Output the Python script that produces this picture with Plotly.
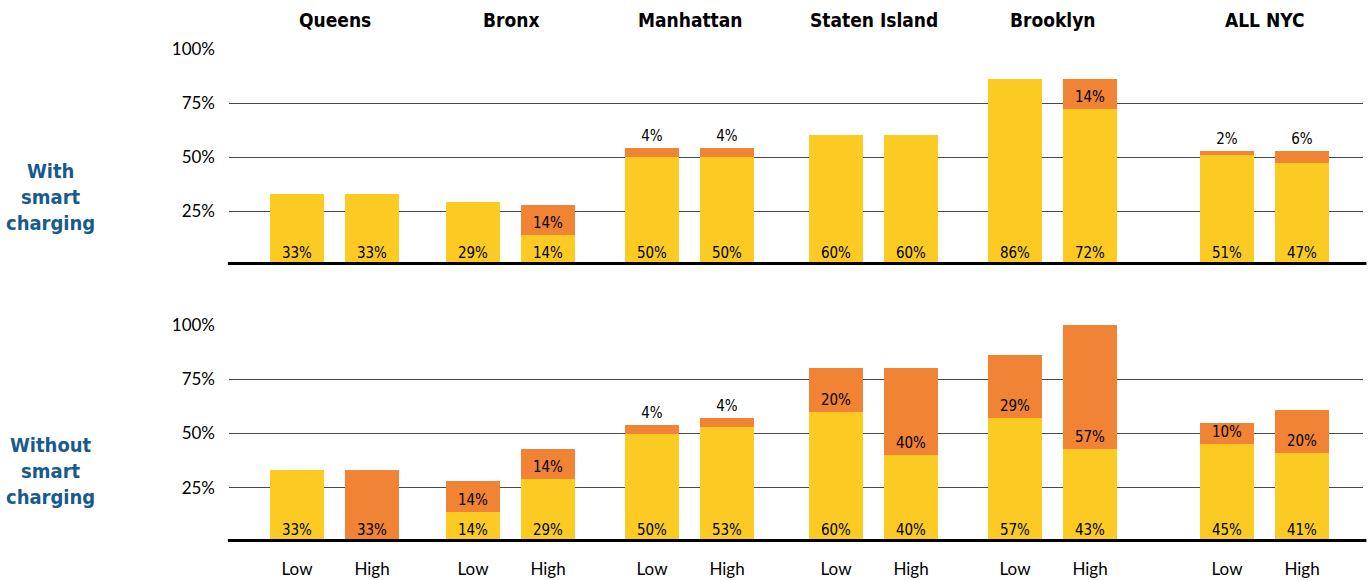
import plotly.graph_objects as go
from plotly.subplots import make_subplots

# data (percent)
boroughs = ["Queens", "Bronx", "Manhattan", "Staten Island", "Brooklyn", "ALL NYC"]
levels = ["Low", "High"]
row_titles = ["With<br>smart<br>charging", "Without<br>smart<br>charging"]

smart_base = [[33, 33], [29, 14], [50, 50], [60, 60], [86, 72], [51, 47]]
smart_extra = [[0, 0], [0, 14], [4, 4], [0, 0], [0, 14], [2, 6]]
nosmart_base = [[33, 0], [14, 29], [50, 53], [60, 40], [57, 43], [45, 41]]
nosmart_extra = [[0, 33], [14, 14], [4, 4], [20, 40], [29, 57], [10, 20]]

ytick_vals = [25, 50, 75, 100]
ytick_text = [f"{v}%" for v in ytick_vals]

YELLOW = "#FBCB23"
ORANGE = "#F08334"
BLUE = "#175B8E"
NARROW = "Liberation Sans Narrow, DejaVu Sans Condensed, sans-serif"
TICKFONT = "Lato, Open Sans, sans-serif"

# layout geometry (pixels in a 1370x580 page)
W, H = 1370, 580
L, R, T, B = 229, 7, 49, 38
col_edges_px = [229, 422, 600, 782, 963, 1159, 1363]
low_center_px = [297, 473, 652, 836, 1015, 1227]
unit_px = 75.0
plot_w = W - L - R
plot_h = H - T - B


def label(v):
    return f"{v}%" if v > 0 else ""


fig = make_subplots(rows=2, cols=6, horizontal_spacing=0, vertical_spacing=0.1)

panels = [(smart_base, smart_extra), (nosmart_base, nosmart_extra)]
for r, (base, extra) in enumerate(panels):
    for c in range(len(boroughs)):
        fig.add_trace(go.Bar(
            x=levels, y=base[c],
            marker=dict(color=YELLOW, line=dict(width=0)),
            text=[label(v) for v in base[c]],
            textposition="inside", insidetextanchor="start",
            textfont=dict(family=NARROW, size=15, color="black"),
            constraintext="none", hoverinfo="skip", showlegend=False
        ), row=r + 1, col=c + 1)
        fig.add_trace(go.Bar(
            x=levels, y=extra[c],
            marker=dict(color=ORANGE, line=dict(width=0)),
            text=[label(v) for v in extra[c]],
            textposition=["outside" if 0 < v < 8 else "inside" for v in extra[c]],
            insidetextanchor="start",
            textfont=dict(family=NARROW, size=15, color="black"),
            outsidetextfont=dict(family=NARROW, size=15, color="black"),
            constraintext="none", cliponaxis=False,
            hoverinfo="skip", showlegend=False
        ), row=r + 1, col=c + 1)

# vertical domains: zero line of top panel at y=265px, bottom panel 100% at y=325px
top_dom = [(H - B - 265) / plot_h, 1.0]
bot_dom = [0.0, (H - B - 325) / plot_h]

for r in range(2):
    for c in range(6):
        x0 = (col_edges_px[c] - L) / plot_w
        x1 = (col_edges_px[c + 1] - L) / plot_w
        rng = [(col_edges_px[c] - low_center_px[c]) / unit_px,
               (col_edges_px[c + 1] - low_center_px[c]) / unit_px]
        fig.update_xaxes(
            domain=[x0, x1], range=rng, type="category",
            categoryorder="array", categoryarray=levels,
            showgrid=False, zeroline=False, showline=False, ticks="",
            showticklabels=(r == 1), ticklabelstandoff=15, automargin=False,
            tickfont=dict(family=TICKFONT, size=17, color="black"),
            row=r + 1, col=c + 1
        )
        fig.update_yaxes(
            domain=top_dom if r == 0 else bot_dom, range=[0, 100],
            tickmode="array", tickvals=ytick_vals, ticktext=ytick_text,
            showgrid=True, gridcolor="#4a4a4a", gridwidth=1,
            zeroline=False, showline=False, ticks="", automargin=False,
            showticklabels=(c == 0), ticklabelstandoff=13,
            tickfont=dict(family=TICKFONT, size=17, color="black"),
            row=r + 1, col=c + 1
        )

# borough titles
for c, name in enumerate(boroughs):
    fig.add_annotation(
        x=0.5, xref=f"x{c + 1}", y=1, yref="paper", yshift=29,
        text=f"<b>{name}</b>", showarrow=False,
        xanchor="center", yanchor="middle",
        font=dict(family=NARROW, size=19, color="black")
    )

# row labels
for r, txt in enumerate(row_titles):
    yc = (H - B - (197 if r == 0 else 471)) / plot_h
    fig.add_annotation(
        x=(50 - L) / plot_w, xref="paper", y=yc, yref="paper",
        text=f"<b>{txt}</b>", showarrow=False, align="center",
        xanchor="center", yanchor="middle",
        font=dict(family=NARROW, size=20, color=BLUE)
    )

# thick baselines
for yref in ["y", "y7"]:
    fig.add_shape(type="line", xref="paper", yref=yref,
                  x0=-0.001, x1=1.003, y0=0, y1=0,
                  line=dict(color="black", width=6), layer="above")

fig.update_layout(
    width=W, height=H,
    margin=dict(l=L, r=R, t=T, b=B),
    barmode="stack", bargap=0.27,
    plot_bgcolor="white", paper_bgcolor="white",
    showlegend=False
)

fig.write_html("out.html", config={"displayModeBar": False},
               post_script="document.body.style.margin='0';")
